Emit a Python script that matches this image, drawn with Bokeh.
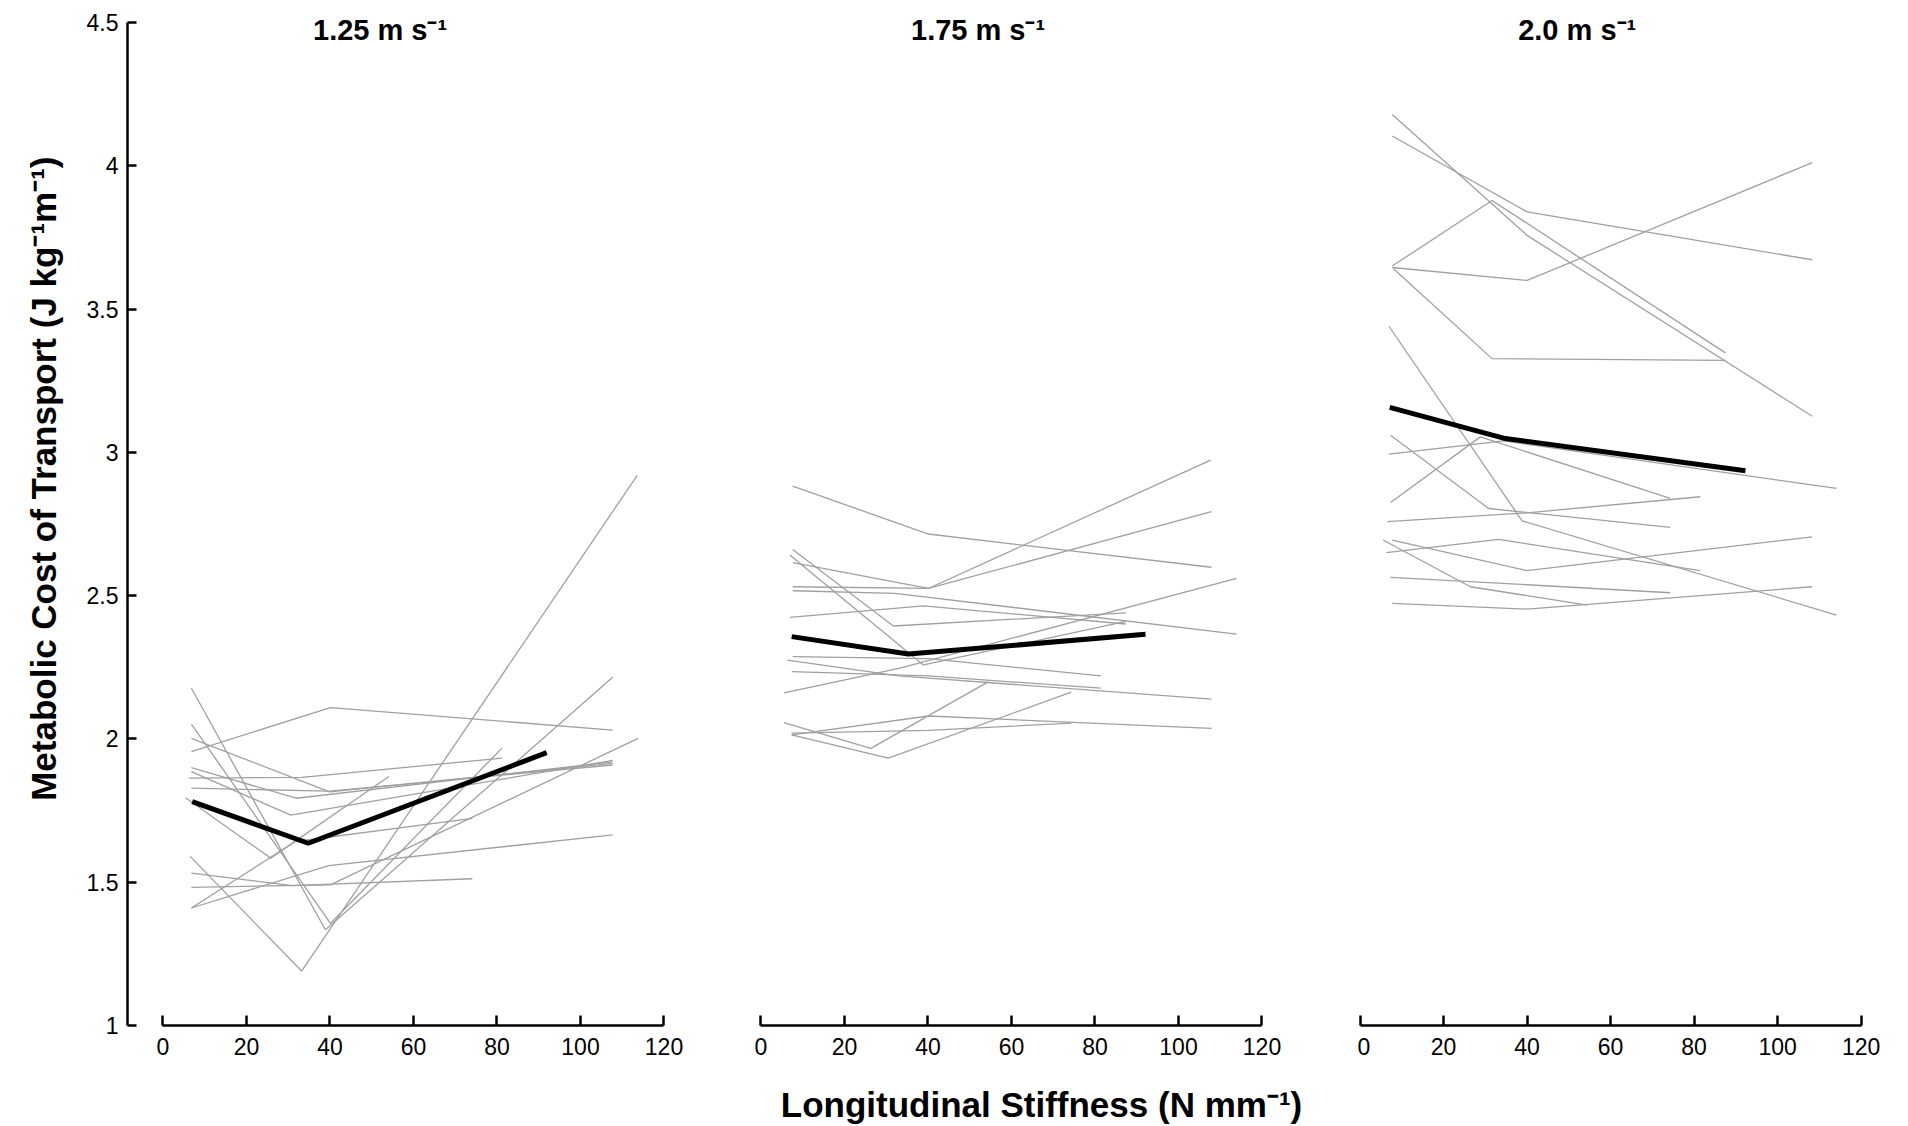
from bokeh.plotting import figure
from bokeh.layouts import row
from bokeh.models import Label, FixedTicker, Range1d, Title
from bokeh.embed import file_html
from bokeh.resources import INLINE

speed_titles = ["1.25 m s\u207b\u00b9", "1.75 m s\u207b\u00b9", "2.0 m s\u207b\u00b9"]
x_ticks = [0, 20, 40, 60, 80, 100, 120]
y_ticks = [1, 1.5, 2, 2.5, 3, 3.5, 4, 4.5]
y_tick_text = {1: "1", 2: "2", 3: "3", 4: "4"}
y_label = "Metabolic Cost of Transport (J kg\u207b\u00b9m\u207b\u00b9)"
x_label = "Longitudinal Stiffness (N mm\u207b\u00b9)"

# ---- 1.25 m/s : individual subjects (stiffness, metabolic cost) ----
s125_x = [
    [6.5, 33.2, 113.6],
    [6.8, 38.9, 107.7],
    [6.8, 40.1, 81.2],
    [6.8, 39.9, 107.7],
    [6.8, 40.1, 107.7],
    [6.8, 31.9, 107.7],
    [6.8, 30.6, 107.7],
    [6.2, 33.3, 81.2],
    [6.8, 39.9, 107.7],
    [5.4, 25.8, 54.1],
    [6.8, 31.0, 74.1],
    [6.8, 40.1, 113.8],
    [6.8, 31.7, 74.1],
    [6.8, 39.7, 107.7],
]
s125_y = [
    [1.59, 1.19, 2.92],
    [2.177, 1.334, 2.215],
    [2.052, 1.356, 1.968],
    [2.002, 1.815, 1.915],
    [1.956, 2.109, 2.031],
    [1.900, 1.793, 1.92],
    [1.886, 1.734, 1.925],
    [1.863, 1.866, 1.933],
    [1.828, 1.818, 1.909],
    [1.795, 1.584, 1.869],
    [1.532, 1.488, 1.512],
    [1.482, 1.491, 2.002],
    [1.41, 1.642, 1.723],
    [1.41, 1.558, 1.665],
]
s125_mean_x = [7.0, 34.8, 91.9]
s125_mean_y = [1.781, 1.636, 1.952]

# ---- 1.75 m/s ----
s175_x = [
    [7.6, 40.1, 107.9],
    [7.6, 31.7, 87.4],
    [6.9, 38.9, 87.4],
    [7.6, 40.1, 107.7],
    [7.6, 40.1, 107.9],
    [7.6, 32.1, 113.9],
    [6.9, 38.9, 87.4],
    [7.6, 40.1, 81.4],
    [6.3, 32.9, 107.9],
    [7.35, 40.1, 81.4],
    [5.5, 33.3, 113.9],
    [5.5, 26.3, 54.5],
    [7.35, 40.1, 107.9],
    [7.35, 30.5, 74.3],
    [7.35, 40.1, 74.3],
]
s175_y = [
    [2.882, 2.715, 2.599],
    [2.661, 2.394, 2.440],
    [2.642, 2.258, 2.41],
    [2.615, 2.525, 2.973],
    [2.531, 2.525, 2.793],
    [2.517, 2.508, 2.366],
    [2.424, 2.464, 2.401],
    [2.287, 2.28, 2.220],
    [2.275, 2.220, 2.139],
    [2.235, 2.22, 2.177],
    [2.161, 2.247, 2.560],
    [2.057, 1.967, 2.2],
    [2.014, 2.080, 2.037],
    [2.014, 1.933, 2.163],
    [2.02, 2.03, 2.055],
]
s175_mean_x = [7.35, 35.3, 92.1]
s175_mean_y = [2.357, 2.296, 2.365]

# ---- 2.0 m/s ----
s200_x = [
    [7.7, 40.0, 108.3],
    [7.7, 40.0, 108.3],
    [7.7, 31.6, 87.5],
    [7.7, 40.0, 108.3],
    [8.0, 31.6, 87.5],
    [6.9, 38.8, 114.1],
    [7.3, 30.8, 74.3],
    [6.9, 34.4, 114.1],
    [7.3, 28.8, 74.3],
    [6.5, 40.0, 81.5],
    [5.5, 26.4, 54.4],
    [7.7, 40.0, 108.3],
    [6.3, 33.2, 81.5],
    [7.3, 40.0, 74.3],
    [7.7, 40.0, 108.3],
]
s200_y = [
    [4.179, 3.757, 3.126],
    [4.104, 3.839, 3.672],
    [3.650, 3.879, 3.347],
    [3.645, 3.600, 4.011],
    [3.641, 3.327, 3.321],
    [3.440, 2.761, 2.432],
    [3.060, 2.804, 2.738],
    [2.994, 3.040, 2.874],
    [2.825, 3.054, 2.839],
    [2.758, 2.789, 2.845],
    [2.694, 2.531, 2.467],
    [2.694, 2.587, 2.705],
    [2.650, 2.696, 2.587],
    [2.564, 2.538, 2.510],
    [2.473, 2.453, 2.531],
]
s200_mean_x = [7.1, 34.8, 92.3]
s200_mean_y = [3.157, 3.048, 2.936]

FONT = "Liberation Sans"
PX_PER_UNIT = 4.175          # horizontal px per N/mm
PX_PER_V = 1004 / 3.5        # vertical px per J/kg/m
Y_TOP = 4.5 + 22 / PX_PER_V  # frame reaches the top edge of the page


def make_panel(title, xs, ys, mx, my, frame_w, x_start, left_axis):
    x_end = x_start + frame_w / PX_PER_UNIT
    p = figure(
        width=frame_w + (127 if left_axis else 0), height=1126,
        x_range=Range1d(x_start, x_end), y_range=Range1d(1, Y_TOP),
        output_backend="svg", toolbar_location=None,
        y_axis_location="left" if left_axis else None,
        min_border_top=0, min_border_bottom=100,
        min_border_left=127 if left_axis else 0, min_border_right=0,
    )
    p.grid.visible = False
    p.outline_line_color = None
    p.background_fill_color = "white"
    p.border_fill_color = "white"

    p.multi_line(xs, ys, line_color="#a0a0a0", line_width=1.3)
    p.line(mx, my, line_color="black", line_width=5)

    xa = p.xaxis[0]
    xa.ticker = FixedTicker(ticks=x_ticks)
    xa.bounds = (0, 120)
    xa.major_tick_in = 10
    xa.major_tick_out = 0
    xa.minor_tick_line_color = None
    xa.axis_line_width = 2.5
    xa.major_tick_line_width = 2.5
    xa.axis_line_color = "black"
    xa.major_tick_line_color = "black"
    xa.major_label_text_font = FONT
    xa.major_label_text_font_size = "23px"
    xa.major_label_text_color = "black"
    xa.major_label_standoff = 12

    if left_axis:
        ya = p.yaxis[0]
        ya.ticker = FixedTicker(ticks=y_ticks)
        ya.bounds = (1, 4.5)
        ya.major_label_overrides = y_tick_text
        ya.major_tick_in = 9
        ya.major_tick_out = 0
        ya.minor_tick_line_color = None
        ya.axis_line_width = 2.5
        ya.major_tick_line_width = 2.5
        ya.axis_line_color = "black"
        ya.major_tick_line_color = "black"
        ya.major_label_text_font = FONT
        ya.major_label_text_font_size = "23px"
        ya.major_label_text_color = "black"
        ya.major_label_standoff = 9
        p.add_layout(Title(
            text=y_label, align="right", offset=156, standoff=41,
            text_font=FONT, text_font_size="35px", text_font_style="bold",
            text_color="black",
        ), "left")

    p.add_layout(Label(
        x=52, y=4.475, text=title, text_align="center", text_baseline="alphabetic",
        text_font=FONT, text_font_size="29px", text_font_style="bold", text_color="black",
    ))
    return p


# panel frames: x = 0 sits at 162.5, 761 and 1359.6 px
f1 = make_panel(speed_titles[0], s125_x, s125_y, s125_mean_x, s125_mean_y, 598, -8.5, True)
f2 = make_panel(speed_titles[1], s175_x, s175_y, s175_mean_x, s175_mean_y, 632, -8.5, False)
f3 = make_panel(speed_titles[2], s200_x, s200_y, s200_mean_x, s200_mean_y, 551, -0.62, False)

xa2 = f2.xaxis[0]
xa2.axis_label = x_label
xa2.axis_label_text_font = FONT
xa2.axis_label_text_font_size = "35px"
xa2.axis_label_text_font_style = "bold"
xa2.axis_label_text_color = "black"
xa2.axis_label_standoff = 27

layout = row(f1, f2, f3)
open("out.html", "w").write(file_html(layout, INLINE))
